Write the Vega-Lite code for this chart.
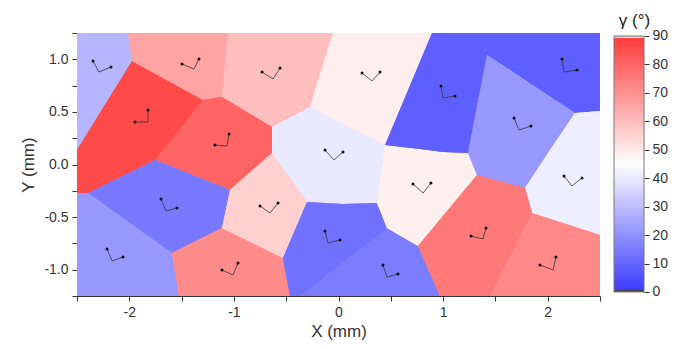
{
  "$schema": "https://vega.github.io/schema/vega-lite/v6.json",
  "width": 523,
  "height": 263,
  "autosize": {"type": "none"},
  "padding": {"left": 77, "top": 33, "right": 77, "bottom": 53},
  "background": "white",
  "config": {
    "view": {"stroke": null},
    "axis": {"domainColor": "#333", "tickColor": "#333", "labelColor": "#333", "titleColor": "#333", "labelFont": "Liberation Sans", "titleFont": "Liberation Sans", "labelFontSize": 14, "titleFontSize": 17, "titleFontWeight": "normal", "grid": false, "tickSize": 5, "labelOverlap": false}
  },
  "datasets": {
    "grains": [
      {"p":1,"g":28,"i":0,"x":-2.5,"y":1.25},{"p":1,"g":28,"i":1,"x":-2.012,"y":1.25},{"p":1,"g":28,"i":2,"x":-1.974,"y":0.984},{"p":1,"g":28,"i":3,"x":-2.5,"y":0.138},
      {"p":2,"g":87,"i":0,"x":-2.5,"y":0.138},{"p":2,"g":87,"i":1,"x":-1.974,"y":0.984},{"p":2,"g":87,"i":2,"x":-1.295,"y":0.613},{"p":2,"g":87,"i":3,"x":-1.754,"y":0.043},{"p":2,"g":87,"i":4,"x":-2.395,"y":-0.271},{"p":2,"g":87,"i":5,"x":-2.5,"y":-0.271},
      {"p":3,"g":66,"i":0,"x":-2.012,"y":1.25},{"p":3,"g":66,"i":1,"x":-1.056,"y":1.25},{"p":3,"g":66,"i":2,"x":-1.114,"y":0.642},{"p":3,"g":66,"i":3,"x":-1.295,"y":0.613},{"p":3,"g":66,"i":4,"x":-1.974,"y":0.984},
      {"p":4,"g":60,"i":0,"x":-1.056,"y":1.25},{"p":4,"g":60,"i":1,"x":-0.053,"y":1.25},{"p":4,"g":60,"i":2,"x":-0.272,"y":0.547},{"p":4,"g":60,"i":3,"x":-0.636,"y":0.356},{"p":4,"g":60,"i":4,"x":-1.114,"y":0.642},
      {"p":5,"g":49,"i":0,"x":-0.053,"y":1.25},{"p":5,"g":49,"i":1,"x":0.894,"y":1.25},{"p":5,"g":49,"i":2,"x":0.445,"y":0.185},{"p":5,"g":49,"i":3,"x":0.014,"y":0.394},{"p":5,"g":49,"i":4,"x":-0.272,"y":0.547},
      {"p":6,"g":40,"i":0,"x":-0.636,"y":0.356},{"p":6,"g":40,"i":1,"x":-0.272,"y":0.547},{"p":6,"g":40,"i":2,"x":0.014,"y":0.394},{"p":6,"g":40,"i":3,"x":0.445,"y":0.185},{"p":6,"g":40,"i":4,"x":0.368,"y":-0.366},{"p":6,"g":40,"i":5,"x":0.043,"y":-0.375},{"p":6,"g":40,"i":6,"x":-0.301,"y":-0.356},{"p":6,"g":40,"i":7,"x":-0.636,"y":0.109},
      {"p":7,"g":81,"i":0,"x":-1.295,"y":0.613},{"p":7,"g":81,"i":1,"x":-1.114,"y":0.642},{"p":7,"g":81,"i":2,"x":-0.636,"y":0.356},{"p":7,"g":81,"i":3,"x":-0.636,"y":0.109},{"p":7,"g":81,"i":4,"x":-1.037,"y":-0.242},{"p":7,"g":81,"i":5,"x":-1.754,"y":0.043},
      {"p":8,"g":14,"i":0,"x":-2.395,"y":-0.271},{"p":8,"g":14,"i":1,"x":-1.754,"y":0.043},{"p":8,"g":14,"i":2,"x":-1.037,"y":-0.242},{"p":8,"g":14,"i":3,"x":-1.114,"y":-0.604},{"p":8,"g":14,"i":4,"x":-1.592,"y":-0.841},
      {"p":9,"g":21,"i":0,"x":-2.5,"y":-0.271},{"p":9,"g":21,"i":1,"x":-2.395,"y":-0.271},{"p":9,"g":21,"i":2,"x":-1.592,"y":-0.841},{"p":9,"g":21,"i":3,"x":-1.525,"y":-1.25},{"p":9,"g":21,"i":4,"x":-2.5,"y":-1.25},
      {"p":10,"g":72,"i":0,"x":-1.592,"y":-0.841},{"p":10,"g":72,"i":1,"x":-1.114,"y":-0.604},{"p":10,"g":72,"i":2,"x":-0.531,"y":-0.889},{"p":10,"g":72,"i":3,"x":-0.464,"y":-1.25},{"p":10,"g":72,"i":4,"x":-1.525,"y":-1.25},
      {"p":11,"g":56,"i":0,"x":-1.037,"y":-0.242},{"p":11,"g":56,"i":1,"x":-0.636,"y":0.109},{"p":11,"g":56,"i":2,"x":-0.301,"y":-0.356},{"p":11,"g":56,"i":3,"x":-0.531,"y":-0.889},{"p":11,"g":56,"i":4,"x":-1.114,"y":-0.604},
      {"p":12,"g":12,"i":0,"x":-0.301,"y":-0.356},{"p":12,"g":12,"i":1,"x":0.043,"y":-0.375},{"p":12,"g":12,"i":2,"x":0.368,"y":-0.366},{"p":12,"g":12,"i":3,"x":0.464,"y":-0.604},{"p":12,"g":12,"i":4,"x":-0.368,"y":-1.25},{"p":12,"g":12,"i":5,"x":-0.464,"y":-1.25},{"p":12,"g":12,"i":6,"x":-0.531,"y":-0.889},
      {"p":13,"g":14.5,"i":0,"x":0.464,"y":-0.604},{"p":13,"g":14.5,"i":1,"x":0.76,"y":-0.775},{"p":13,"g":14.5,"i":2,"x":0.97,"y":-1.25},{"p":13,"g":14.5,"i":3,"x":-0.368,"y":-1.25},
      {"p":14,"g":48.5,"i":0,"x":0.445,"y":0.185},{"p":14,"g":48.5,"i":1,"x":0.779,"y":0.147},{"p":14,"g":48.5,"i":2,"x":0.999,"y":0.119},{"p":14,"g":48.5,"i":3,"x":1.238,"y":0.109},{"p":14,"g":48.5,"i":4,"x":1.324,"y":-0.1},{"p":14,"g":48.5,"i":5,"x":0.76,"y":-0.775},{"p":14,"g":48.5,"i":6,"x":0.464,"y":-0.604},{"p":14,"g":48.5,"i":7,"x":0.368,"y":-0.366},
      {"p":15,"g":8,"i":0,"x":0.894,"y":1.25},{"p":15,"g":8,"i":1,"x":2.5,"y":1.25},{"p":15,"g":8,"i":2,"x":2.5,"y":0.509},{"p":15,"g":8,"i":3,"x":2.261,"y":0.49},{"p":15,"g":8,"i":4,"x":1.42,"y":1.041},{"p":15,"g":8,"i":5,"x":1.238,"y":0.109},{"p":15,"g":8,"i":6,"x":0.999,"y":0.119},{"p":15,"g":8,"i":7,"x":0.779,"y":0.147},{"p":15,"g":8,"i":8,"x":0.445,"y":0.185},
      {"p":16,"g":21,"i":0,"x":1.42,"y":1.041},{"p":16,"g":21,"i":1,"x":2.261,"y":0.49},{"p":16,"g":21,"i":2,"x":2.022,"y":0.138},{"p":16,"g":21,"i":3,"x":1.783,"y":-0.223},{"p":16,"g":21,"i":4,"x":1.324,"y":-0.1},{"p":16,"g":21,"i":5,"x":1.238,"y":0.109},
      {"p":17,"g":41,"i":0,"x":2.022,"y":0.138},{"p":17,"g":41,"i":1,"x":2.261,"y":0.49},{"p":17,"g":41,"i":2,"x":2.5,"y":0.509},{"p":17,"g":41,"i":3,"x":2.5,"y":-0.67},{"p":17,"g":41,"i":4,"x":1.85,"y":-0.461},{"p":17,"g":41,"i":5,"x":1.783,"y":-0.223},
      {"p":18,"g":76,"i":0,"x":0.76,"y":-0.775},{"p":18,"g":76,"i":1,"x":1.324,"y":-0.1},{"p":18,"g":76,"i":2,"x":1.783,"y":-0.223},{"p":18,"g":76,"i":3,"x":1.85,"y":-0.461},{"p":18,"g":76,"i":4,"x":1.448,"y":-1.25},{"p":18,"g":76,"i":5,"x":0.97,"y":-1.25},
      {"p":19,"g":72.5,"i":0,"x":1.85,"y":-0.461},{"p":19,"g":72.5,"i":1,"x":2.5,"y":-0.67},{"p":19,"g":72.5,"i":2,"x":2.5,"y":-1.25},{"p":19,"g":72.5,"i":3,"x":1.448,"y":-1.25}
    ],
    "glyphs": [
      {"cx":-2.29,"cy":0.879,"ex":-2.347,"ey":0.984},{"cx":-2.29,"cy":0.879,"ex":-2.175,"ey":0.927},
      {"cx":-1.381,"cy":0.908,"ex":-1.496,"ey":0.955},{"cx":-1.381,"cy":0.908,"ex":-1.334,"ey":1.003},
      {"cx":-0.626,"cy":0.813,"ex":-0.731,"ey":0.879},{"cx":-0.626,"cy":0.813,"ex":-0.559,"ey":0.917},
      {"cx":-1.821,"cy":0.404,"ex":-1.821,"ey":0.518},{"cx":-1.821,"cy":0.404,"ex":-1.945,"ey":0.404},
      {"cx":-1.066,"cy":0.176,"ex":-1.047,"ey":0.29},{"cx":-1.066,"cy":0.176,"ex":-1.181,"ey":0.185},
      {"cx":-0.043,"cy":0.043,"ex":-0.129,"ey":0.138},{"cx":-0.043,"cy":0.043,"ex":0.043,"ey":0.119},
      {"cx":0.32,"cy":0.794,"ex":0.225,"ey":0.87},{"cx":0.32,"cy":0.794,"ex":0.397,"ey":0.879},
      {"cx":0.999,"cy":0.632,"ex":0.98,"ey":0.746},{"cx":0.999,"cy":0.632,"ex":1.114,"ey":0.651},
      {"cx":2.156,"cy":0.879,"ex":2.137,"ey":1.003},{"cx":2.156,"cy":0.879,"ex":2.28,"ey":0.898},
      {"cx":1.726,"cy":0.328,"ex":1.678,"ey":0.442},{"cx":1.726,"cy":0.328,"ex":1.84,"ey":0.366},
      {"cx":0.808,"cy":-0.271,"ex":0.712,"ey":-0.185},{"cx":0.808,"cy":-0.271,"ex":0.884,"ey":-0.176},
      {"cx":2.232,"cy":-0.204,"ex":2.156,"ey":-0.109},{"cx":2.232,"cy":-0.204,"ex":2.328,"ey":-0.128},
      {"cx":1.381,"cy":-0.708,"ex":1.41,"ey":-0.604},{"cx":1.381,"cy":-0.708,"ex":1.267,"ey":-0.68},
      {"cx":2.051,"cy":-1.003,"ex":2.079,"ey":-0.879},{"cx":2.051,"cy":-1.003,"ex":1.926,"ey":-0.955},
      {"cx":-0.1,"cy":-0.746,"ex":-0.129,"ey":-0.632},{"cx":-0.1,"cy":-0.746,"ex":0.014,"ey":-0.718},
      {"cx":0.464,"cy":-1.069,"ex":0.425,"ey":-0.955},{"cx":0.464,"cy":-1.069,"ex":0.569,"ey":-1.041},
      {"cx":-1.649,"cy":-0.442,"ex":-1.697,"ey":-0.328},{"cx":-1.649,"cy":-0.442,"ex":-1.544,"ey":-0.413},
      {"cx":-2.165,"cy":-0.917,"ex":-2.213,"ey":-0.803},{"cx":-2.165,"cy":-0.917,"ex":-2.06,"ey":-0.879},
      {"cx":-1.009,"cy":-1.05,"ex":-0.961,"ey":-0.936},{"cx":-1.009,"cy":-1.05,"ex":-1.114,"ey":-1.003},
      {"cx":-0.655,"cy":-0.461,"ex":-0.75,"ey":-0.394},{"cx":-0.655,"cy":-0.461,"ex":-0.578,"ey":-0.366}
    ],
    "colorbar": [
      {"bx": 2.634, "bx2": 2.921, "v": 0, "v2": 90}
    ]
  },
  "layer": [
    {
      "layer": [
        {
          "data": {"name": "grains"},
          "mark": {"type": "line", "filled": false, "interpolate": "linear-closed", "strokeWidth": 1.2, "clip": true},
          "encoding": {
            "x": {"field": "x", "type": "quantitative", "scale": {"domain": [-2.5, 2.5], "nice": false, "zero": false},
              "axis": {"title": "X (mm)", "values": [-2.5, -2, -1.5, -1, -0.5, 0, 0.5, 1, 1.5, 2, 2.5], "tickCount": 11, "labelExpr": "datum.value % 1 === 0 ? '' + datum.value : ''", "labelPadding": 4, "titlePadding": 4}},
            "y": {"field": "y", "type": "quantitative", "scale": {"domain": [-1.25, 1.25], "nice": false, "zero": false},
              "axis": {"title": "Y (mm)", "values": [-1.25, -1, -0.75, -0.5, -0.25, 0, 0.25, 0.5, 0.75, 1, 1.25], "tickCount": 11, "labelExpr": "datum.value === 1 ? '1.0' : datum.value === 0.5 ? '0.5' : datum.value === 0 ? '0.0' : datum.value === -0.5 ? '-0.5' : datum.value === -1 ? '-1.0' : ''", "labelPadding": 4, "titlePadding": 6}},
            "detail": {"field": "p", "type": "nominal"},
            "order": {"field": "i", "type": "quantitative"},
            "stroke": {"field": "g", "type": "quantitative",
              "scale": {"domain": [0, 45, 90], "range": ["#3d3dff", "#ffffff", "#ff3d3d"], "interpolate": "rgb"}, "legend": null}
          }
        },
        {
          "data": {"name": "grains"},
          "mark": {"type": "line", "filled": true, "interpolate": "linear-closed", "clip": true},
          "encoding": {
            "x": {"field": "x", "type": "quantitative"},
            "y": {"field": "y", "type": "quantitative"},
            "detail": {"field": "p", "type": "nominal"},
            "order": {"field": "i", "type": "quantitative"},
            "fill": {"field": "g", "type": "quantitative",
              "scale": {"domain": [0, 45, 90], "range": ["#3d3dff", "#ffffff", "#ff3d3d"], "interpolate": "rgb"}, "legend": null}
          }
        },
        {
          "data": {"name": "glyphs"},
          "mark": {"type": "rule", "color": "#333", "strokeWidth": 0.8},
          "encoding": {
            "x": {"field": "cx", "type": "quantitative"},
            "y": {"field": "cy", "type": "quantitative"},
            "x2": {"field": "ex"},
            "y2": {"field": "ey"}
          }
        },
        {
          "data": {"name": "glyphs"},
          "mark": {"type": "point", "filled": true, "color": "#111", "size": 9, "opacity": 1},
          "encoding": {
            "x": {"field": "ex", "type": "quantitative"},
            "y": {"field": "ey", "type": "quantitative"}
          }
        }
      ]
    },
    {
      "data": {"name": "colorbar"},
      "mark": {"type": "rect", "clip": false, "stroke": "#777", "strokeWidth": 1,
        "fill": {"gradient": "linear", "x1": 0, "y1": 1, "x2": 0, "y2": 0,
          "stops": [
            {"offset": 0, "color": "#444444"}, {"offset": 0.007, "color": "#444444"}, {"offset": 0.01, "color": "#3d3dff"},
            {"offset": 0.5, "color": "#ffffff"},
            {"offset": 0.99, "color": "#ff3d3d"}, {"offset": 0.993, "color": "#d8d8d8"}, {"offset": 1, "color": "#d8d8d8"}
          ]}},
      "encoding": {
        "x": {"field": "bx", "type": "quantitative", "scale": {"domain": [-2.5, 2.5], "nice": false, "zero": false}, "axis": null},
        "x2": {"field": "bx2"},
        "y": {"field": "v", "type": "quantitative", "scale": {"domain": [-1.41, 91.05], "nice": false, "zero": false},
          "axis": {"orient": "right", "offset": 44, "domain": false, "values": [0, 10, 20, 30, 40, 50, 60, 70, 80, 90], "tickCount": 10, "tickSize": 5, "labelPadding": 3, "labelFontSize": 14,
            "title": "γ (°)", "titleAngle": 0, "titleX": -10, "titleY": -8, "titleAlign": "center", "titleBaseline": "alphabetic", "titleFontSize": 17, "titleColor": "#222"}},
        "y2": {"field": "v2"}
      }
    }
  ],
  "resolve": {"scale": {"x": "independent", "y": "independent"}, "axis": {"x": "independent", "y": "independent"}}
}
